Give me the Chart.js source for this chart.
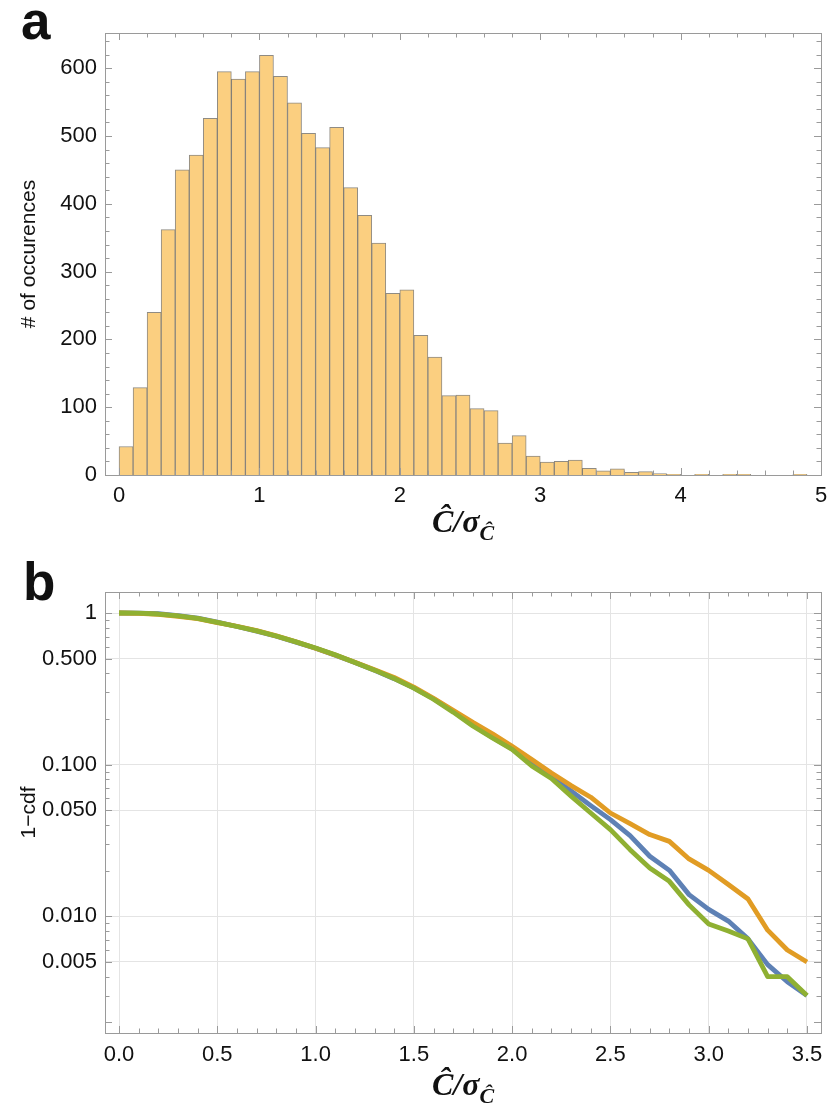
<!DOCTYPE html>
<html>
<head>
<meta charset="utf-8">
<script src="https://cdn.jsdelivr.net/npm/chart.js@4.4.1/dist/chart.umd.min.js"></script>
<style>
    body { margin: 0; background: #fff; }
    #page { position: relative; width: 830px; height: 1112px; font-family: "Liberation Sans", Arial, sans-serif; color: #111; }
    .panel { position: absolute; left: 0; }
    .letter { position: absolute; font-weight: bold; font-size: 53px; line-height: 1; }
    .xtitle { position: absolute; left: 105px; width: 716px; text-align: center;
              font-family: "Liberation Serif", "DejaVu Serif", serif; font-weight: bold; font-style: italic; font-size: 32px; line-height: 1; }
    .xtitle sub { font-size: 22px; vertical-align: -8px; }
</style>
</head>
<body>
<div id="page">
    <div class="letter" style="left:21px; top:-6px;">a</div>
    <div class="panel" style="top:0;"><canvas id="histo" width="830" height="555"></canvas></div>
    <div class="xtitle" style="top:505px;">C&#770;/σ<sub>C&#770;</sub></div>

    <div class="letter" style="left:23px; top:555px;">b</div>
    <div class="panel" style="top:555px;"><canvas id="tail" width="830" height="557"></canvas></div>
    <div class="xtitle" style="top:1068px;">C&#770;/σ<sub>C&#770;</sub></div>
</div>

<script>
// --- panel a: histogram, bins of width 0.1
const binCenters = [0.05, 0.15, 0.25, 0.35, 0.45, 0.55, 0.65, 0.75, 0.85, 0.95,
    1.05, 1.15, 1.25, 1.35, 1.45, 1.55, 1.65, 1.75, 1.85, 1.95,
    2.05, 2.15, 2.25, 2.35, 2.45, 2.55, 2.65, 2.75, 2.85, 2.95,
    3.05, 3.15, 3.25, 3.35, 3.45, 3.55, 3.65, 3.75, 3.85, 3.95,
    4.05, 4.15, 4.25, 4.35, 4.45, 4.55, 4.65, 4.75, 4.85];
const binCounts = [42, 129, 240, 362, 450, 472, 526, 595, 584, 595,
    619, 588, 549, 504, 483, 513, 424, 383, 342, 268,
    273, 206, 174, 117, 118, 98, 95, 47, 58, 28,
    19, 20, 22, 10, 6, 9, 4, 5, 2, 1,
    0, 1, 0, 1, 1, 0, 0, 0, 1];
const xTicksA = [0, 1, 2, 3, 4, 5];
const yTicksA = [0, 100, 200, 300, 400, 500, 600];

// --- panel b: 1-cdf on log axis
const xs = [0.0, 0.1, 0.2, 0.3, 0.4, 0.5, 0.6, 0.7, 0.8, 0.9,
    1.0, 1.1, 1.2, 1.3, 1.4, 1.5, 1.6, 1.7, 1.8, 1.9,
    2.0, 2.1, 2.2, 2.3, 2.4, 2.5, 2.6, 2.7, 2.8, 2.9,
    3.0, 3.1, 3.2, 3.3, 3.4, 3.5];
const blueVals = [1.0, 0.999, 0.99, 0.962, 0.925, 0.87, 0.815, 0.76, 0.703, 0.643,
    0.585, 0.527, 0.471, 0.419, 0.369, 0.321, 0.272, 0.225, 0.183, 0.151,
    0.127, 0.101, 0.083, 0.067, 0.0537, 0.0434, 0.034, 0.0249, 0.0201, 0.0139,
    0.0111, 0.0093, 0.0071, 0.0048, 0.0037, 0.0030];
const orangeVals = [1.0, 0.996, 0.98, 0.952, 0.918, 0.865, 0.818, 0.765, 0.707, 0.646,
    0.586, 0.529, 0.474, 0.423, 0.376, 0.325, 0.274, 0.228, 0.190, 0.160,
    0.132, 0.108, 0.088, 0.0728, 0.061, 0.048, 0.0409, 0.0346, 0.0312, 0.0239,
    0.0201, 0.0162, 0.013, 0.0081, 0.006, 0.005];
const greenVals = [1.0, 0.997, 0.985, 0.957, 0.922, 0.868, 0.815, 0.762, 0.705, 0.645,
    0.588, 0.530, 0.472, 0.420, 0.370, 0.320, 0.270, 0.222, 0.180, 0.150,
    0.126, 0.098, 0.081, 0.062, 0.048, 0.0373, 0.0275, 0.0208, 0.0170, 0.0119,
    0.0089, 0.0080, 0.0071, 0.0040, 0.0040, 0.0030];
const xTicksB = [0, 0.5, 1, 1.5, 2, 2.5, 3, 3.5];
const xTickLabelsB = ['0.0', '0.5', '1.0', '1.5', '2.0', '2.5', '3.0', '3.5'];
const yTicksB = [0.005, 0.01, 0.05, 0.1, 0.5, 1];
const yTickLabelsB = ['0.005', '0.010', '0.050', '0.100', '0.500', '1'];

const frameGray = '#9a9a9a';
const tickFont = { family: '"Liberation Sans", Arial, sans-serif', size: 22 };

// frame round the plot with inward ticks on all four sides, like the original
const frameTicks = {
    id: 'frameTicks',
    afterDatasetsDraw(chart, args, opts) {
        const ctx = chart.ctx;
        const a = chart.chartArea;
        const sx = chart.scales.x, sy = chart.scales.y;
        ctx.save();
        ctx.strokeStyle = frameGray;
        ctx.lineWidth = 1;
        ctx.strokeRect(Math.round(a.left) + 0.5, Math.round(a.top) + 0.5,
            Math.round(a.right - a.left), Math.round(a.bottom - a.top));
        ctx.beginPath();
        opts.xMarks.forEach(m => {
            const px = Math.round(sx.getPixelForValue(m[0])) + 0.5;
            if (px < a.left || px > a.right + 1) return;
            ctx.moveTo(px, a.bottom); ctx.lineTo(px, a.bottom - m[1]);
            ctx.moveTo(px, a.top); ctx.lineTo(px, a.top + m[1]);
        });
        opts.yMarks.forEach(m => {
            const py = Math.round(sy.getPixelForValue(m[0])) + 0.5;
            if (py < a.top || py > a.bottom + 1) return;
            ctx.moveTo(a.left, py); ctx.lineTo(a.left + m[1], py);
            ctx.moveTo(a.right, py); ctx.lineTo(a.right - m[1], py);
        });
        ctx.stroke();
        ctx.restore();
    }
};

function marks(major, minor) {
    return major.map(v => [v, 7]).concat(minor.map(v => [v, 4.5]));
}

// minor tick positions
const xMinorA = [], yMinorA = [], xMinorB = [], yMinorB = [];
for (let i = 0; i <= 25; i++) if (i % 5) xMinorA.push(i * 0.2);
for (let i = 0; i <= 32; i++) if (i % 5) yMinorA.push(i * 20);
for (let i = 0; i <= 35; i++) if (i % 5) xMinorB.push(i * 0.1);
[0.001, 0.01, 0.1].forEach(d => { for (let k = 2; k <= 9; k++) if (k != 5) yMinorB.push(d * k); });

// panel a
const histo = document.getElementById('histo').getContext('2d');
new Chart(histo, {
    type: 'bar',
    data: {
        datasets: [
            {
                data: binCenters.map((c, i) => ({ x: c, y: binCounts[i] })),
                backgroundColor: '#fbcf80',
                borderColor: 'rgba(105,100,90,0.75)',
                borderWidth: 1,
                barPercentage: 1,
                categoryPercentage: 1
            }
        ]
    },
    options: {
        responsive: false,
        animation: false,
        layout: { padding: { top: 33, right: 9, left: 0, bottom: 0 } },
        plugins: {
            legend: { display: false },
            tooltip: { enabled: false },
            frameTicks: { xMarks: marks(xTicksA, xMinorA), yMarks: marks(yTicksA, yMinorA) }
        },
        scales: {
            x: {
                type: 'linear',
                offset: false,
                min: -0.1,
                max: 5.0,
                grid: { display: false, drawTicks: false },
                border: { display: false },
                ticks: { font: tickFont, color: '#111', padding: 8, maxRotation: 0 },
                afterBuildTicks: (s) => { s.ticks = xTicksA.map(v => ({ value: v })); },
                afterFit: (s) => { s.height = 80; s.paddingLeft = 0; s.paddingRight = 0; }
            },
            y: {
                min: 0,
                max: 652,
                grid: { display: false, drawTicks: false },
                border: { display: false },
                ticks: { font: tickFont, color: '#111', padding: 8 },
                afterBuildTicks: (s) => { s.ticks = yTicksA.map(v => ({ value: v })); },
                afterFit: (s) => { s.width = 105; s.paddingTop = 0; s.paddingBottom = 0; },
                title: {
                    display: true,
                    text: '# of occurences',
                    color: '#111',
                    font: { family: '"Liberation Sans", Arial, sans-serif', size: 21 },
                    padding: { top: 17, bottom: 0 }
                }
            }
        }
    },
    plugins: [frameTicks]
});

// panel b
const tail = document.getElementById('tail').getContext('2d');
new Chart(tail, {
    type: 'line',
    data: {
        datasets: [
            {
                data: xs.map((x, i) => ({ x: x, y: blueVals[i] })),
                borderColor: '#5e81b5',
                order: 2
            },
            {
                data: xs.map((x, i) => ({ x: x, y: orangeVals[i] })),
                borderColor: '#e19c24',
                order: 1
            },
            {
                data: xs.map((x, i) => ({ x: x, y: greenVals[i] })),
                borderColor: '#8fb032',
                order: 0
            }
        ]
    },
    options: {
        responsive: false,
        animation: false,
        layout: { padding: { top: 37, right: 9, left: 0, bottom: 0 } },
        elements: {
            point: { radius: 0 },
            line: { borderWidth: 4.8, tension: 0, borderJoinStyle: 'round', fill: false }
        },
        plugins: {
            legend: { display: false },
            tooltip: { enabled: false },
            frameTicks: { xMarks: marks(xTicksB, xMinorB), yMarks: marks(yTicksB.concat([0.002]), yMinorB.filter(v => Math.abs(v - 0.002) > 1e-9)) }
        },
        scales: {
            x: {
                type: 'linear',
                min: -0.0714,
                max: 3.5714,
                grid: { color: '#e4e4e4', drawTicks: false },
                border: { display: false },
                ticks: {
                    font: tickFont, color: '#111', padding: 9, maxRotation: 0,
                    callback: (v, i) => xTickLabelsB[i]
                },
                afterBuildTicks: (s) => { s.ticks = xTicksB.map(v => ({ value: v })); },
                afterFit: (s) => { s.height = 79; s.paddingLeft = 0; s.paddingRight = 0; }
            },
            y: {
                type: 'logarithmic',
                min: 0.0017,
                max: 1.376,
                grid: { color: '#e4e4e4', drawTicks: false },
                border: { display: false },
                ticks: {
                    font: tickFont, color: '#111', padding: 8,
                    callback: (v, i) => yTickLabelsB[i]
                },
                afterBuildTicks: (s) => { s.ticks = yTicksB.map(v => ({ value: v })); },
                afterFit: (s) => { s.width = 105; s.paddingTop = 0; s.paddingBottom = 0; },
                title: {
                    display: true,
                    text: '1\u2212cdf',
                    color: '#111',
                    font: { family: '"Liberation Sans", Arial, sans-serif', size: 21 },
                    padding: { top: 17, bottom: 0 }
                }
            }
        }
    },
    plugins: [frameTicks]
});
</script>
</body>
</html>
